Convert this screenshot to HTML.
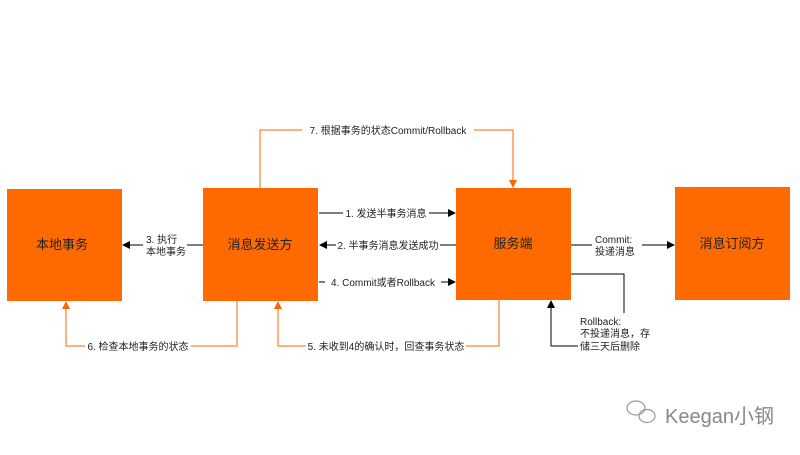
<!DOCTYPE html>
<html><head><meta charset="utf-8"><style>
body{margin:0;background:#fff}
svg text{font-family:"Liberation Sans","Noto Sans CJK SC",sans-serif}
</style></head><body>
<svg width="800" height="450" xmlns="http://www.w3.org/2000/svg">
<defs>
<marker id="ab" markerWidth="8" markerHeight="8" refX="7" refY="4" orient="auto" markerUnits="userSpaceOnUse"><path d="M0,0 L8,4 L0,8z" fill="#000"/></marker>
<marker id="ao" markerWidth="8" markerHeight="8" refX="7" refY="4" orient="auto" markerUnits="userSpaceOnUse"><path d="M0,0 L8,4 L0,8z" fill="#f60"/></marker>
</defs>
<g fill="#ff6a00">
<rect x="7" y="189" width="115" height="112"/>
<rect x="203" y="188" width="115" height="113"/>
<rect x="456" y="188" width="115" height="112"/>
<rect x="675" y="187" width="115" height="113"/>
</g>
<g font-size="13" text-anchor="middle" fill="#222">
<text x="62" y="249">本地事务</text>
<text x="260" y="249">消息发送方</text>
<text x="513" y="248">服务端</text>
<text x="732" y="248">消息订阅方</text>
</g>
<g stroke="#000" stroke-width="1" fill="none">
<line x1="319" y1="213" x2="455" y2="213" marker-end="url(#ab)"/>
<line x1="456" y1="245" x2="320" y2="245" marker-end="url(#ab)"/>
<line x1="319" y1="282" x2="455" y2="282" marker-end="url(#ab)"/>
<line x1="203" y1="245" x2="123" y2="245" marker-end="url(#ab)"/>
<line x1="571" y1="245" x2="674" y2="245" marker-end="url(#ab)"/>
<polyline points="571,274 624,274 624,346 551,346 551,301" marker-end="url(#ab)"/>
</g>
<g stroke="#f60" stroke-width="1" fill="none">
<polyline points="260,188 260,130 513,130 513,187" marker-end="url(#ao)"/>
<polyline points="237,301 237,346 66,346 66,302" marker-end="url(#ao)"/>
<polyline points="499,300 499,346 278,346 278,302" marker-end="url(#ao)"/>
</g>
<g font-size="10" fill="#222">
<g text-anchor="middle">
<rect x="302" y="123" width="172" height="14" fill="#fff"/>
<text x="388" y="134">7. 根据事务的状态Commit/Rollback</text>
<rect x="343" y="206" width="86" height="14" fill="#fff"/>
<text x="386" y="217">1. 发送半事务消息</text>
<rect x="336" y="238" width="104" height="14" fill="#fff"/>
<text x="388" y="249">2. 半事务消息发送成功</text>
<rect x="325" y="275" width="116" height="14" fill="#fff"/>
<text x="383" y="286">4. Commit或者Rollback</text>
<rect x="85" y="339" width="106" height="14" fill="#fff"/>
<text x="138" y="350">6. 检查本地事务的状态</text>
<rect x="306" y="339" width="160" height="14" fill="#fff"/>
<text x="386" y="350">5. 未收到4的确认时，回查事务状态</text>
</g>
<rect x="143" y="232" width="44" height="26" fill="#fff"/>
<text x="146" y="243">3. 执行</text>
<text x="146" y="255">本地事务</text>
<rect x="592" y="232" width="50" height="26" fill="#fff"/>
<text x="595" y="243">Commit:</text>
<text x="595" y="255">投递消息</text>
<rect x="578" y="313" width="90" height="40" fill="#fff"/>
<text x="580" y="325">Rollback:</text>
<text x="580" y="337">不投递消息，存</text>
<text x="580" y="350">储三天后删除</text>
</g>
<g fill="none" stroke="#999" stroke-width="1.2">
<ellipse cx="636" cy="408" rx="9" ry="7"/>
<ellipse cx="647" cy="416" rx="8" ry="6.5"/>
</g>
<text x="665" y="423" font-size="20" fill="#888" font-family="Liberation Sans,Noto Sans CJK SC,sans-serif">Keegan小钢</text>
</svg>
</body></html>
